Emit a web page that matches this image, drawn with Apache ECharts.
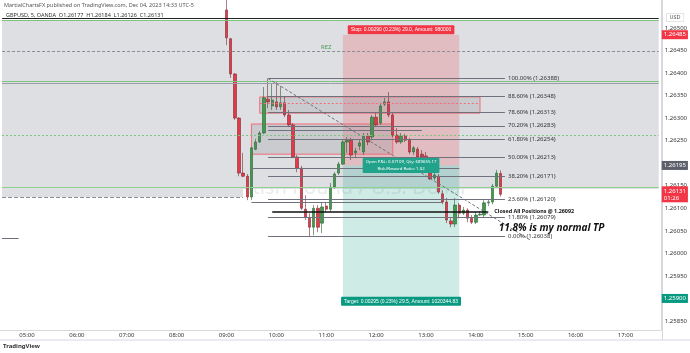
<!DOCTYPE html>
<html><head><meta charset="utf-8">
<script src="https://cdn.jsdelivr.net/npm/echarts@6/dist/echarts.min.js"></script>
<style>html,body{margin:0;padding:0;background:#fff}#c{width:690px;height:353px}</style>
</head><body><div id="c"></div>
<script>
// ---- data ----
const hourLabels = ['05:00','06:00','07:00','08:00','09:00','10:00','11:00','12:00','13:00','14:00','15:00','16:00','17:00'];
const priceTicks = [1.2585,1.2595,1.2600,1.2605,1.2610,1.2615,1.2625,1.2630,1.2635,1.2640,1.2645,1.2650];
const candleTimes = ['09:00','09:05','09:10','09:15','09:20','09:25','09:30','09:35','09:40','09:45','09:50','09:55',
 '10:00','10:05','10:10','10:15','10:20','10:25','10:30','10:35','10:40','10:45','10:50','10:55',
 '11:00','11:05','11:10','11:15','11:20','11:25','11:30','11:35','11:40','11:45','11:50','11:55',
 '12:00','12:05','12:10','12:15','12:20','12:25','12:30','12:35','12:40','12:45','12:50','12:55',
 '13:00','13:05','13:10','13:15','13:20','13:25','13:30','13:35','13:40','13:45','13:50','13:55',
 '14:00','14:05','14:10','14:15','14:20','14:25','14:30'];
const candleOpen  = [1.26540,1.26476,1.26398,1.26300,1.26178,1.26171,1.26125,1.26231,1.26247,1.26267,1.26342,1.26327,
 1.26336,1.26325,1.26334,1.26307,1.26285,1.26214,1.26189,1.26098,1.26078,1.26058,1.26100,1.26067,
 1.26105,1.26098,1.26147,1.26178,1.26198,1.26247,1.26251,1.26223,1.26238,1.26225,1.26260,1.26258,
 1.26302,1.26289,1.26331,1.26336,1.26307,1.26262,1.26247,1.26260,1.26251,1.26225,1.26231,1.26220,
 1.26216,1.26180,1.26167,1.26171,1.26132,1.26114,1.26072,1.26065,1.26107,1.26089,1.26096,1.26078,
 1.26069,1.26085,1.26085,1.26112,1.26114,1.26149,1.26177];
const candleHigh  = [1.26580,1.26478,1.26400,1.26302,1.26223,1.26176,1.26236,1.26254,1.26271,1.26369,1.26388,1.26378,
 1.26380,1.26371,1.26347,1.26318,1.26289,1.26218,1.26194,1.26129,1.26089,1.26107,1.26107,1.26112,
 1.26112,1.26156,1.26180,1.26203,1.26251,1.26258,1.26256,1.26234,1.26251,1.26267,1.26267,1.26307,
 1.26311,1.26334,1.26345,1.26358,1.26311,1.26278,1.26267,1.26265,1.26256,1.26238,1.26236,1.26229,
 1.26225,1.26196,1.26180,1.26176,1.26140,1.26123,1.26080,1.26123,1.26112,1.26103,1.26100,1.26085,
 1.26092,1.26094,1.26118,1.26120,1.26154,1.26185,1.26184];
const candleLow   = [1.26462,1.26389,1.26296,1.26171,1.26169,1.26118,1.26118,1.26229,1.26245,1.26265,1.26322,1.26318,
 1.26318,1.26318,1.26302,1.26280,1.26211,1.26180,1.26096,1.26074,1.26038,1.26040,1.26047,1.26045,
 1.26092,1.26092,1.26143,1.26174,1.26196,1.26223,1.26207,1.26211,1.26229,1.26218,1.26240,1.26251,
 1.26280,1.26285,1.26327,1.26302,1.26258,1.26243,1.26243,1.26247,1.26220,1.26218,1.26209,1.26209,
 1.26189,1.26163,1.26163,1.26132,1.26109,1.26067,1.26058,1.26058,1.26078,1.26085,1.26069,1.26065,
 1.26065,1.26083,1.26080,1.26105,1.26109,1.26145,1.26126];
const candleClose = [1.26478,1.26398,1.26300,1.26178,1.26171,1.26125,1.26234,1.26247,1.26267,1.26345,1.26336,1.26340,
 1.26325,1.26334,1.26307,1.26285,1.26214,1.26189,1.26100,1.26080,1.26058,1.26100,1.26058,1.26103,
 1.26098,1.26147,1.26176,1.26198,1.26247,1.26251,1.26218,1.26227,1.26245,1.26260,1.26247,1.26302,
 1.26285,1.26327,1.26336,1.26307,1.26262,1.26247,1.26260,1.26251,1.26225,1.26234,1.26214,1.26214,
 1.26194,1.26165,1.26174,1.26136,1.26114,1.26074,1.26065,1.26107,1.26089,1.26096,1.26078,1.26069,
 1.26085,1.26087,1.26112,1.26114,1.26149,1.26178,1.26131];
// fibonacci retracement
const fibPct   = ['100.00%','88.60%','78.60%','70.20%','61.80%','50.00%','38.20%','23.60%','11.80%','0.00%'];
const fibPrice = [1.26388,1.26348,1.26313,1.26283,1.26254,1.26213,1.26171,1.26120,1.26079,1.26038];
const fibStart = '09:50', fibEnd = '14:35';
// short position tool
const posEntry = 1.26195, posStop = 1.26485, posTarget = 1.25900, posStart = '11:20', posEnd = '13:40';
const stopText = 'Stop: 0.00290 (0.23%) 29.0, Amount: 980000';
const targetText = 'Target: 0.00295 (0.23%) 29.5, Amount: 1020344.83';
const pnlText = 'Open P&L: 0.07109, Qty: 689655.17\nRisk/Reward Ratio: 1.02';
// zones / levels
const bandTop = 1.26517, bandBottom = 1.26143, bandGreen = 1.26147;
const leftBox = {x0:'04:30', x1:'09:20', top:1.26143, bottom:1.26125};
const box1 = {x0:'09:40', x1:'14:05', top:1.26347, bottom:1.26311, mid:1.26332};
const box2 = {x0:'09:30', x1:'12:20', top:1.26287, bottom:1.26220};
const blackLevel = 1.26521, dashedLevel = 1.26448, greenLevel = 1.26381, grayLevel = 1.26377, greenDashLevel = 1.26262;
const extraLevels = [1.26273, 1.26189, 1.26114];
const extraFrom   = ['09:50', '09:30', '09:30'];
const extraTo     = ['12:55', '13:40', '13:20'];
const closedLevel = 1.26092, closedFrom = '09:55', closedTo = '14:15';
const trendFrom = ['09:50', 1.26388], trendTo = ['15:05', 1.26030];
const leftLevel = 1.26034, leftFrom = '04:30', leftTo = '04:50';
const lastPrice = 1.26131;

// ---- build ----
const cats = [];
for (let m = 4*60+30; m <= 17*60+40; m += 5) {
  cats.push(String(Math.floor(m/60)).padStart(2,'0') + ':' + String(m%60).padStart(2,'0'));
}
const firstCat = cats[0], lastCat = cats[cats.length - 1];
const ohlc = cats.map(() => '-');
candleTimes.forEach((t, i) => {
  ohlc[cats.indexOf(t)] = [candleOpen[i], candleClose[i], candleLow[i], candleHigh[i]];
});
const FONT = 'Noto Sans';
const full = (v, ls) => [{xAxis: firstCat, yAxis: v, lineStyle: ls}, {xAxis: lastCat, yAxis: v}];
const tag = (v, txt, bg) => [{xAxis: firstCat, yAxis: v, lineStyle:{color:'rgba(0,0,0,0)', width: 0.1},
  label:{show:true, position:'end', distance:3, formatter: txt, backgroundColor: bg, color:'#fff', fontSize:6, fontFamily: FONT, padding:[1,2], lineHeight: 7}},
  {xAxis: lastCat, yAxis: v}];
const grayLine = {color:'#6f727c', width:1, type:'solid'};

const option = {
  animation: false,
  backgroundColor: '#ffffff',
  grid: {left: 0, right: 27.5, top: 0, bottom: 23},
  xAxis: {
    type: 'category', data: cats, boundaryGap: true,
    axisLine: {lineStyle: {color: '#d6d8de'}},
    axisTick: {show: false},
    axisLabel: {interval: (i, v) => hourLabels.includes(v), fontSize: 6, color: '#333', fontFamily: FONT, margin: 2},
    splitLine: {show: false}
  },
  yAxis: {
    type: 'value', position: 'right', min: 1.25830, max: 1.26562, scale: true,
    axisLine: {show: true, lineStyle: {color: '#d6d8de'}},
    axisTick: {show: false},
    splitLine: {show: false},
    axisLabel: {customValues: priceTicks, formatter: v => v.toFixed(5), fontSize: 6, color: '#333', fontFamily: FONT, margin: 4}
  },
  graphic: [
    {type:'text', left: 4, top: 2, style:{text:'MartialChartsFX published on TradingView.com, Dec 04, 2023 14:33 UTC-5', fontSize:5.5, fill:'#555', fontFamily: FONT}},
    {type:'text', left: 6, top: 12, style:{text:'GBPUSD, 5, OANDA  O1.26177  H1.26184  L1.26126  C1.26131', fontSize:5.5, fill:'#333', fontFamily: FONT}, z: 10},
    {type:'text', left: 666, top: 13, style:{text:'USD', fontSize:5.5, fill:'#555', fontFamily: FONT, backgroundColor:'#fff', borderColor:'#ccc', borderWidth:0.5, padding:[1,3]}, z: 10},
    {type:'text', left: 3, top: 343, style:{text:'TradingView', fontSize:6, fill:'#333', fontFamily: FONT, fontWeight:'bold'}},
    {type:'line', shape:{x1:662.5, y1:0, x2:662.5, y2:340}, style:{stroke:'#d6d8de', lineWidth:1}},
    {type:'line', shape:{x1:0, y1:340, x2:690, y2:340}, style:{stroke:'#d6d8de', lineWidth:1}},
    {type:'text', left: 248, top: 127, style:{text:'GBPUSD', fontSize:46, fill:'rgba(110,112,120,0.15)', fontFamily: FONT}, z: 0},
    {type:'text', left: 226, top: 178, style:{text:'British Pound / U.S. Dollar', fontSize:20, fill:'rgba(110,112,120,0.15)', fontFamily: FONT}, z: 0}
  ],
  series: [
    { // background band
      type: 'line', data: [], z: 1, silent: true,
      markArea: {silent: true, itemStyle: {color: '#dedfe2'}, data: [
        [{xAxis: firstCat, yAxis: bandTop}, {xAxis: lastCat, yAxis: bandBottom}],
        [{xAxis: leftBox.x0, yAxis: leftBox.top}, {xAxis: leftBox.x1, yAxis: leftBox.bottom}]
      ]}
    },
    { // position tool + boxes
      type: 'line', data: [], z: 2, silent: true,
      markArea: {silent: true, data: [
        [{xAxis: posStart, yAxis: posStop, itemStyle:{color:'rgba(242,54,69,0.2)'}}, {xAxis: posEnd, yAxis: posEntry}],
        [{xAxis: posStart, yAxis: posEntry, itemStyle:{color:'rgba(8,153,129,0.2)'}}, {xAxis: posEnd, yAxis: posTarget}],
        [{xAxis: box1.x0, yAxis: box1.top, itemStyle:{color:'rgba(120,123,134,0.2)', borderColor:'#f26d7a', borderWidth:1}}, {xAxis: box1.x1, yAxis: box1.bottom}],
        [{xAxis: box2.x0, yAxis: box2.top, itemStyle:{color:'rgba(120,123,134,0.2)', borderColor:'#f26d7a', borderWidth:1}}, {xAxis: box2.x1, yAxis: box2.bottom}]
      ]}
    },
    { // lines
      type: 'line', data: [], z: 3, silent: true,
      markLine: {silent: true, symbol: ['none','none'], label: {show: false}, data: [
        full(blackLevel, {color:'#222', width:1.2, type:'solid'}),
        full(bandTop, {color:'#7cc47f', width:1, type:'solid'}),
        full(dashedLevel, {color:'#8a8d96', width:1, type:[3,2]}),
        full(greenLevel, {color:'#7cc47f', width:1, type:'solid'}),
        full(grayLevel, {color:'#9a9da6', width:1, type:'solid'}),
        full(greenDashLevel, {color:'#7cc47f', width:1, type:[2,2]}),
        full(bandGreen, {color:'#8fcf92', width:1, type:'solid'}),
        [{xAxis: leftBox.x0, yAxis: leftBox.bottom, lineStyle:{color:'#8a8d96', width:1}}, {xAxis: leftBox.x1, yAxis: leftBox.bottom}],
        [{xAxis: leftFrom, yAxis: leftLevel, lineStyle: grayLine}, {xAxis: leftTo, yAxis: leftLevel}],
        [{xAxis: box1.x0, yAxis: box1.mid, lineStyle:{color:'#f26d7a', width:1, type:[2,2]}}, {xAxis: box1.x1, yAxis: box1.mid}],
        ...extraLevels.map((p, i) => [{xAxis: extraFrom[i], yAxis: p, lineStyle: grayLine}, {xAxis: extraTo[i], yAxis: p}]),
        ...fibPrice.map((p, i) => [
          {xAxis: fibStart, yAxis: p, lineStyle: grayLine,
           label:{show:true, position:'end', distance:3, formatter: fibPct[i] + ' (' + p.toFixed(5) + ')', fontSize:6, color:'#333', fontFamily: FONT}},
          {xAxis: fibEnd, yAxis: p}
        ]),
        [{xAxis: trendFrom[0], yAxis: trendFrom[1], lineStyle:{color:'#6f727c', width:1, type:[3,2]}}, {xAxis: trendTo[0], yAxis: trendTo[1]}],
        [{xAxis: closedFrom, yAxis: closedLevel, lineStyle:{color:'#111', width:1.5, type:'solid'},
          label:{show:true, position:'end', distance:6, formatter:'Closed All Positions @ 1.26092', fontSize:5.4, fontWeight:'bold', color:'#111', fontFamily: FONT}},
         {xAxis: closedTo, yAxis: closedLevel}]
      ]}
    },
    {
      type: 'candlestick', data: ohlc, z: 4, barWidth: '70%',
      itemStyle: {color: '#3e9c4b', color0: '#e5394a', borderColor: '#2f5f35', borderColor0: '#7a2a30', borderWidth: 0.6}
    },
    { // labels
      type: 'line', data: [], z: 6, silent: true,
      markPoint: {silent: true, symbol: 'rect', symbolSize: 0, data: [
        {coord: ['12:30', 1.26496], label:{show:true, position:'inside', formatter: stopText, backgroundColor:'#f23645', color:'#fff', fontSize:5, fontFamily: 'Liberation Sans', padding:[2,3], borderRadius:1}},
        {coord: ['12:30', 1.25894], label:{show:true, position:'inside', formatter: targetText, backgroundColor:'#089981', color:'#fff', fontSize:5, fontFamily: 'Liberation Sans', padding:[2,3], borderRadius:1}},
        {coord: ['12:30', posEntry], label:{show:true, position:'inside', formatter: pnlText, backgroundColor:'#21a28a', color:'#fff', fontSize:4.3, lineHeight:6.5, fontFamily: FONT, padding:[1,3], borderRadius:1, align:'center'}},
        {coord: ['11:00', 1.26456], label:{show:true, position:'inside', formatter:'REZ', color:'#4c9a52', fontSize:6, fontFamily: FONT}},
        {coord: ['14:25', 1.26055], label:{show:true, position:'right', distance:2, formatter:'11.8% is my normal TP', color:'#111', fontSize:10, fontWeight:'bold', fontStyle:'italic', fontFamily: FONT}}
      ]},
      markLine: {silent: true, symbol: ['none','none'], data: [
        tag(posStop, '1.26485', '#f23645'),
        tag(posEntry, '1.26195', '#5d606b'),
        tag(lastPrice, '1.26131\n01:26', '#f23645'),
        tag(posTarget, '1.25900', '#089981')
      ]}
    }
  ]
};
const chart = echarts.init(document.getElementById('c'), null, {renderer: 'canvas'});
chart.setOption(option);
</script></body></html>
